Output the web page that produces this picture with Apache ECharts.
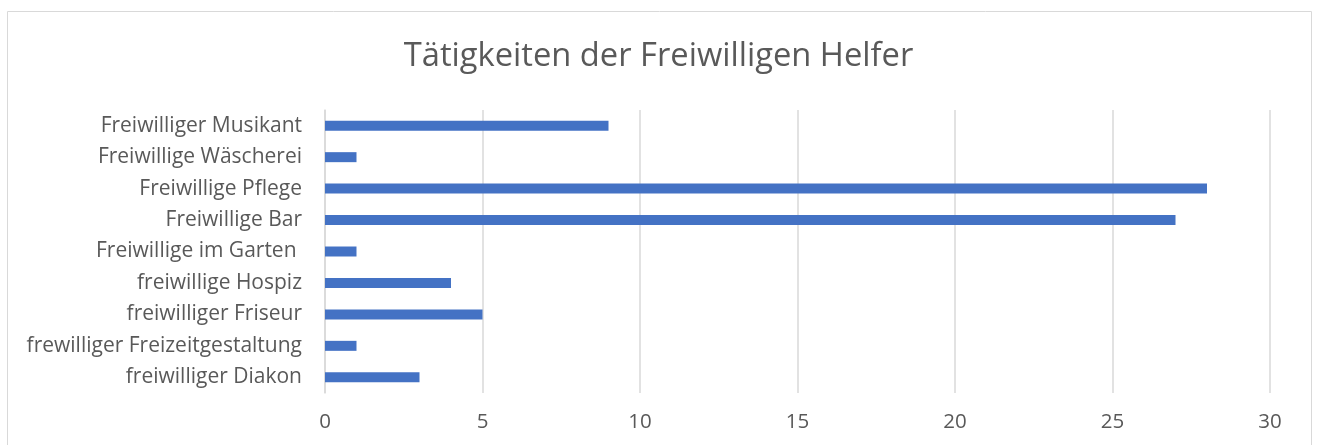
<!DOCTYPE html>
<html>
<head>
<meta charset="utf-8">
<script src="https://cdn.jsdelivr.net/npm/echarts@6/dist/echarts.min.js"></script>
<style>
  html, body { margin: 0; padding: 0; background: #fff; }
  #chart { width: 1317px; height: 445px; }
</style>
</head>
<body>
<div id="chart"></div>
<script>
// Tätigkeiten der Freiwilligen Helfer (von unten nach oben)
const categories = [
  "freiwilliger Diakon",
  "frewilliger Freizeitgestaltung",
  "freiwilliger Friseur",
  "freiwillige Hospiz",
  "Freiwillige im Garten ",
  "Freiwillige Bar",
  "Freiwillige Pflege",
  "Freiwillige Wäscherei",
  "Freiwilliger Musikant",
];
const helpers = [3, 1, 5, 4, 1, 27, 28, 1, 9];
const xTicks = [0, 5, 10, 15, 20, 25, 30];

(function () {
  const el = document.getElementById("chart");
  const myChart = echarts.init(el);
  const font = "'Open Sans', 'Noto Sans', sans-serif";
  const option = {
    animation: false,
    graphic: [
      {
        type: "rect",
        shape: { x: 7.5, y: 11.5, width: 1304, height: 500 },
        style: { fill: "none", stroke: "#d9d9d9", lineWidth: 1 },
        silent: true,
      },
    ],
    title: {
      text: "Tätigkeiten der Freiwilligen Helfer",
      left: "center",
      top: 35,
      textStyle: {
        fontFamily: font,
        fontSize: 32.7,
        fontWeight: "normal",
        color: "#595959",
      },
    },
    grid: {
      left: 325,
      right: 47,
      top: 110,
      bottom: 52,
      containLabel: false,
    },
    xAxis: {
      type: "value",
      min: xTicks[0],
      max: xTicks[xTicks.length - 1],
      interval: 5,
      axisLine: { show: false },
      axisTick: { show: false },
      axisLabel: {
        color: "#595959",
        fontFamily: font,
        fontSize: 20.5,
        margin: 19,
      },
      splitLine: {
        lineStyle: { color: "#d9d9d9", width: 1.5 },
      },
    },
    yAxis: {
      type: "category",
      data: categories,
      axisLine: { lineStyle: { color: "#d9d9d9", width: 1.5 } },
      axisTick: { show: false },
      axisLabel: {
        color: "#595959",
        fontFamily: font,
        fontSize: 21,
        margin: 23,
      },
    },
    series: [
      {
        name: "Anzahl",
        type: "bar",
        data: helpers,
        barWidth: 10,
        itemStyle: { color: "#4472c4" },
      },
    ],
  };
  myChart.setOption(option);

  window.addEventListener("resize", function () {
    myChart.resize();
  });
})();
</script>
</body>
</html>
